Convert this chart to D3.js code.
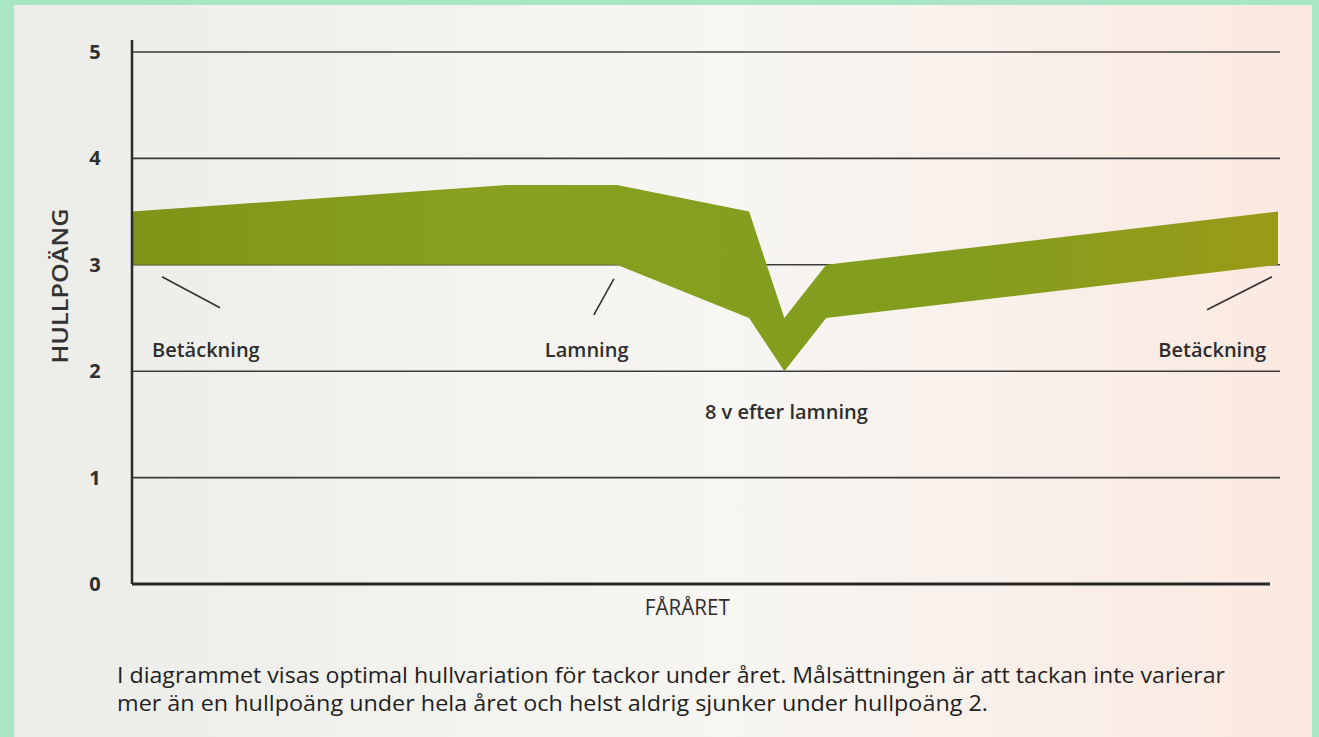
<!DOCTYPE html>
<html>
<head>
<meta charset="utf-8">
<script src="https://cdn.jsdelivr.net/npm/d3@7"></script>
<style>
  body { margin: 0; background: #a9e7c4; }
  svg { display: block; }
</style>
</head>
<body>
<div id="chart"></div>
<script>
// weeks through the sheep year, upper and lower bound of body condition score
const weeks = [0, 17, 22, 28, 29.6, 31.5, 52];
const upper = [3.5, 3.75, 3.75, 3.5, 2.5, 3.0, 3.5];
const lower = [3.0, 3.0, 3.0, 2.5, 2.0, 2.5, 3.0];
const yTicks = [0, 1, 2, 3, 4, 5];

// annotations: week where the leader points, label text
const notes = [
  { week: 0, label: "Betäckning" },
  { week: 22, label: "Lamning" },
  { week: 52, label: "Betäckning" }
];
const dipNote = { week: 29.6, label: "8 v efter lamning" };

const caption = [
  "I diagrammet visas optimal hullvariation för tackor under året. Målsättningen är att tackan inte varierar",
  "mer än en hullpoäng under hela året och helst aldrig sjunker under hullpoäng 2."
];

const W = 1319, H = 737;
const margin = { top: 52, right: 39, bottom: 153, left: 132 };

const svg = d3.select("#chart")
  .append("svg")
    .attr("width", W)
    .attr("height", H);

// photo background
const defs = svg.append("defs");
const bg = defs.append("linearGradient").attr("id", "paper");
bg.append("stop").attr("offset", "0%").attr("stop-color", "#ecece8");
bg.append("stop").attr("offset", "55%").attr("stop-color", "#f7f6f3");
bg.append("stop").attr("offset", "100%").attr("stop-color", "#fbe9e0");

const band = defs.append("linearGradient").attr("id", "band");
band.append("stop").attr("offset", "0%").attr("stop-color", "#7f9418");
band.append("stop").attr("offset", "30%").attr("stop-color", "#87a01f");
band.append("stop").attr("offset", "70%").attr("stop-color", "#829d1e");
band.append("stop").attr("offset", "100%").attr("stop-color", "#999a18");

svg.append("rect")
  .attr("x", 14).attr("y", 5)
  .attr("width", 1298).attr("height", H - 5)
  .attr("fill", "url(#paper)");

const x = d3.scaleLinear()
  .domain([0, 52])
  .range([margin.left, W - margin.right - 2]);

const y = d3.scaleLinear()
  .domain([0, 5])
  .range([H - margin.bottom, margin.top]);

// gridlines
svg.append("g")
  .selectAll("line")
  .data(yTicks.filter(d => d > 0))
  .enter()
  .append("line")
    .attr("x1", margin.left)
    .attr("x2", W - margin.right)
    .attr("y1", d => y(d))
    .attr("y2", d => y(d))
    .attr("stroke", "#3b3b3b")
    .attr("stroke-width", 1.6);

// band
const area = d3.area()
  .x((d, i) => x(weeks[i]))
  .y0((d, i) => y(lower[i]))
  .y1((d, i) => y(upper[i]));

svg.append("path")
  .datum(weeks)
  .attr("fill", "url(#band)")
  .attr("d", area);

// axes
svg.append("line")
  .attr("x1", margin.left).attr("x2", margin.left)
  .attr("y1", margin.top - 12).attr("y2", y(0))
  .attr("stroke", "#2a2a2a")
  .attr("stroke-width", 2.5);

svg.append("line")
  .attr("x1", margin.left).attr("x2", W - margin.right - 10)
  .attr("y1", y(0)).attr("y2", y(0))
  .attr("stroke", "#262626")
  .attr("stroke-width", 3);

// tick labels
svg.append("g")
  .selectAll("text")
  .data(yTicks)
  .enter()
  .append("text")
    .attr("x", 95)
    .attr("y", d => y(d))
    .attr("dy", "0.35em")
    .attr("text-anchor", "middle")
    .attr("font-family", "Open Sans, sans-serif")
    .attr("font-weight", 700)
    .attr("font-size", 20)
    .attr("fill", "#2f2f2f")
    .text(d => d);

// axis titles
svg.append("text")
  .attr("transform", `translate(68, ${y(2.8)}) rotate(-90)`)
  .attr("text-anchor", "middle")
  .attr("font-family", "Open Sans, sans-serif")
  .attr("font-weight", 600)
  .attr("font-size", 21)
  .attr("textLength", 155)
  .attr("lengthAdjust", "spacingAndGlyphs")
  .attr("fill", "#333")
  .text("HULLPOÄNG");

svg.append("text")
  .attr("x", x(25.2))
  .attr("y", y(0) + 31)
  .attr("text-anchor", "middle")
  .attr("font-family", "Open Sans, sans-serif")
  .attr("font-size", 21)
  .attr("textLength", 85)
  .attr("lengthAdjust", "spacingAndGlyphs")
  .attr("fill", "#2f2f2f")
  .text("FÅRÅRET");

// annotation leaders and labels
const leader = [
  { dx1: 30, dy1: 12, dx2: 88, dy2: 43, tx: 152, anchor: "start" },
  { dx1: -3, dy1: 14, dx2: -23, dy2: 50, tx: x(22) - 72, anchor: "start" },
  { dx1: -6, dy1: 12, dx2: -71, dy2: 45, tx: x(52) - 12, anchor: "end" }
];

notes.forEach((n, i) => {
  const l = leader[i];
  const px = x(n.week), py = y(lower[weeks.indexOf(n.week)]);
  svg.append("line")
    .attr("x1", px + l.dx1).attr("y1", py + l.dy1)
    .attr("x2", px + l.dx2).attr("y2", py + l.dy2)
    .attr("stroke", "#333")
    .attr("stroke-width", 1.6);
  svg.append("text")
    .attr("x", l.tx)
    .attr("y", y(2.2))
    .attr("dy", "0.35em")
    .attr("text-anchor", l.anchor)
    .attr("font-family", "Open Sans, sans-serif")
    .attr("font-weight", 600)
    .attr("font-size", 20)
    .attr("fill", "#2e2e2e")
    .text(n.label);
});

svg.append("text")
  .attr("x", x(dipNote.week) + 2)
  .attr("y", y(1.62))
  .attr("dy", "0.35em")
  .attr("text-anchor", "middle")
  .attr("font-family", "Open Sans, sans-serif")
  .attr("font-weight", 600)
  .attr("font-size", 20)
  .attr("fill", "#2e2e2e")
  .text(dipNote.label);

// caption
const capWidths = [1108, 871];
svg.append("g")
  .selectAll("text")
  .data(caption)
  .enter()
  .append("text")
    .attr("x", 117)
    .attr("y", (d, i) => 683 + i * 28)
    .attr("font-family", "Open Sans, sans-serif")
    .attr("font-size", 21)
    .attr("textLength", (d, i) => capWidths[i])
    .attr("lengthAdjust", "spacingAndGlyphs")
    .attr("fill", "#1f1f1f")
    .text(d => d);
</script>
</body>
</html>
